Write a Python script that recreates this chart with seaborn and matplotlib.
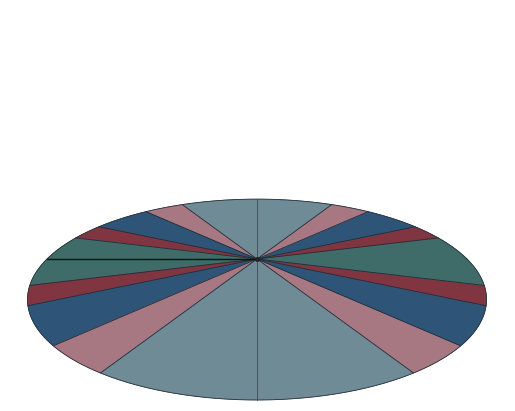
import numpy as np
import matplotlib
matplotlib.use("Agg")
import matplotlib.pyplot as plt
import seaborn as sns

# slice shares inside one quarter of the disc, going out from the horizontal axis
slice_names = ["green", "red", "blue", "pink", "teal"]
quarter_values = [18, 12, 22, 16, 32]
slice_colors = ["#3f6b69", "#803541", "#2e5577", "#a77782", "#6f8b96"]

# the disc is seen tilted, from a close camera
elev_deg = 23.6
cam_dist = 2.27


def project(theta, r=1.0):
    # point on the flat disc -> screen, perspective view
    e = np.deg2rad(elev_deg)
    u, v = r * np.cos(theta), r * np.sin(theta)
    w = 1 + v * np.cos(e) / cam_dist
    return u / w, v * np.sin(e) / w


sns.set_theme(style="white")
palette = dict(zip(slice_names, sns.color_palette(slice_colors)))

# four mirrored quarters, counter-clockwise from the right
names = slice_names + slice_names[::-1] + slice_names + slice_names[::-1]
values = quarter_values + quarter_values[::-1] + quarter_values + quarter_values[::-1]
edges = np.concatenate([[0], np.cumsum(values)]) / np.sum(values) * 2 * np.pi

fig, ax = plt.subplots(figsize=(5.15, 4.11), dpi=100)
ax.set_position([0, 0, 1, 1])

for name, t0, t1 in zip(names, edges[:-1], edges[1:]):
    th = np.linspace(t0, t1, 60)
    x, y = project(th)
    ax.fill(np.r_[0, x], np.r_[0, y], color=palette[name], lw=0.4, ec=palette[name])

# thin dark lines where one colour meets the next
for i in range(len(names)):
    if names[i] != names[(i + 1) % len(names)]:
        x, y = project(edges[i + 1])
        ax.plot([0, x], [0, y], color="#1f2b36", lw=0.6)

# rim of the disc
th = np.linspace(0, 2 * np.pi, 400)
x, y = project(th)
ax.plot(x, y, color="#26303a", lw=0.6)

# vertical diameter and left radius
xt, yt = project(np.pi / 2)
xb, yb = project(3 * np.pi / 2)
ax.plot([xt, xb], [yt, yb], color="#3a4d57", lw=0.6)
xl, yl = project(np.pi)
ax.plot([xl, 0], [yl, 0], color="#111111", lw=1.0)
ax.plot([0], [0], "o", color="#222222", ms=2.5)

px = 210.0
ax.set_xlim(-257 / px, (515 - 257) / px)
ax.set_ylim(-152 / px, 259 / px)
ax.axis("off")

fig.savefig("out.png", dpi=100)
